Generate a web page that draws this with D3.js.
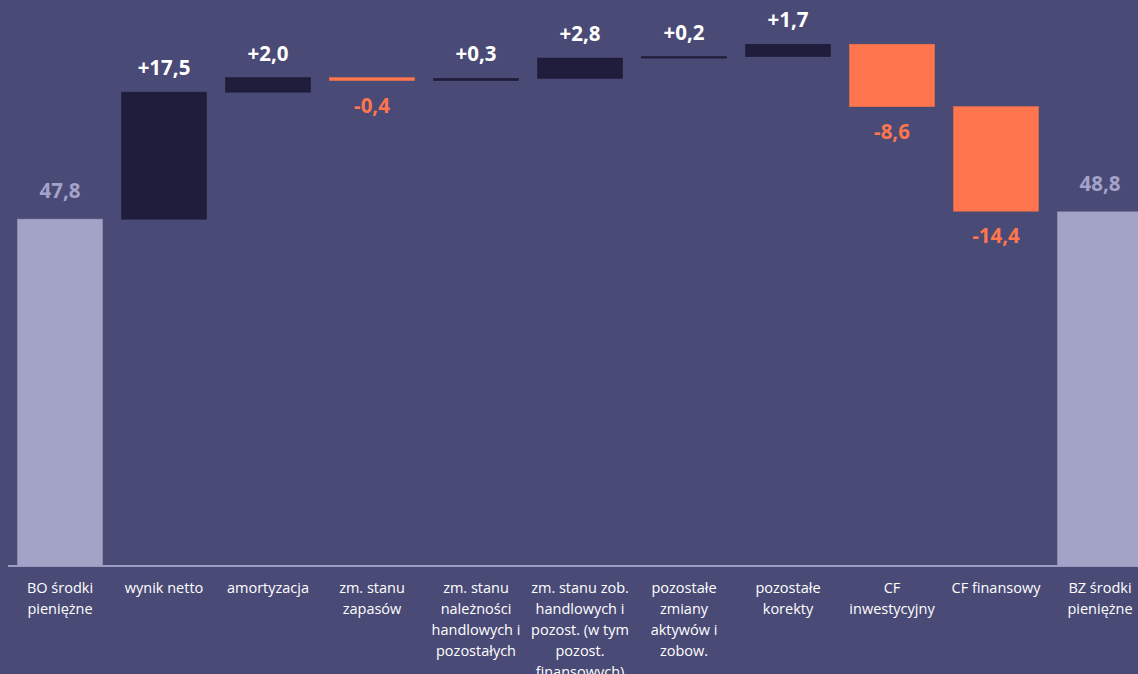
<!DOCTYPE html>
<html>
<head>
<meta charset="utf-8">
<script src="https://cdn.jsdelivr.net/npm/d3@7"></script>
<style>
  body { margin: 0; background: #4a4a76; overflow: hidden; }
  svg { display: block; }
</style>
</head>
<body>
<script>
var width = 1138, height = 674;

// data
var categories = ["BO środki\npieniężne", "wynik netto", "amortyzacja", "zm. stanu\nzapasów",
  "zm. stanu\nnależności\nhandlowych i\npozostałych",
  "zm. stanu zob.\nhandlowych i\npozost. (w tym\npozost.\nfinansowych)",
  "pozostałe\nzmiany\naktywów i\nzobow.", "pozostałe\nkorekty", "CF\ninwestycyjny",
  "CF finansowy", "BZ środki\npieniężne"];
var startValue = 47.8;
var deltas = [17.5, 2.0, -0.4, 0.3, 2.8, 0.2, 1.7, -8.6, -14.4];
var endValue = 48.8;

var fmt = function(v) { return v.toFixed(1).replace(".", ","); };

// build waterfall rows
var rows = [];
rows.push({ cat: categories[0], y0: 0, y1: startValue, type: "total", v: startValue });
var run = startValue;
deltas.forEach(function(d, i) {
  rows.push({ cat: categories[i + 1], y0: run, y1: run + d, type: d >= 0 ? "pos" : "neg", v: d });
  run += d;
});
rows.push({ cat: categories[10], y0: 0, y1: endValue, type: "total", v: endValue });

var fill = { total: "#a3a3c8", pos: "#201c3c", neg: "#ff764e" };
var labelColor = { total: "#a3a3c8", pos: "#ffffff", neg: "#ff764e" };

var svg = d3.select("body").append("svg")
  .attr("width", width)
  .attr("height", height);

svg.append("rect").attr("width", width).attr("height", height).attr("fill", "#4a4a76");

var x = d3.scaleBand()
  .domain(categories)
  .range([8, 1152])
  .paddingInner(0.183)
  .paddingOuter(0.0915);

var y = d3.scaleLinear().domain([0, 78]).range([566, 0]);

// axis line
svg.append("line")
  .attr("x1", 8).attr("x2", width)
  .attr("y1", y(0)).attr("y2", y(0))
  .attr("stroke", "#9c9cc4")
  .attr("stroke-width", 2);

svg.selectAll("rect.bar")
  .data(rows)
  .enter()
  .append("rect")
  .attr("class", "bar")
  .attr("x", function(d) { return x(d.cat); })
  .attr("width", x.bandwidth())
  .attr("y", function(d) { return y(Math.max(d.y0, d.y1)); })
  .attr("height", function(d) { return Math.max(1, Math.abs(y(d.y0) - y(d.y1))); })
  .attr("fill", function(d) { return fill[d.type]; })
  .attr("stroke", function(d) { return d3.color(fill[d.type]).darker(0.15); })
  .attr("stroke-width", 0.6);

// value labels
svg.selectAll("text.val")
  .data(rows)
  .enter()
  .append("text")
  .attr("class", "val")
  .attr("x", function(d) { return x(d.cat) + x.bandwidth() / 2; })
  .attr("y", function(d) {
    if (d.type == "total") return y(d.y1) - 21;
    if (d.type == "pos") return y(d.y1) - 17;
    return y(d.y1) + 32;
  })
  .attr("text-anchor", "middle")
  .style("font-family", "'Open Sans', 'Noto Sans', sans-serif")
  .style("font-weight", "bold")
  .style("font-size", "20.5px")
  .attr("fill", function(d) { return labelColor[d.type]; })
  .text(function(d) {
    if (d.type == "total") return fmt(d.v);
    return (d.v >= 0 ? "+" : "-") + fmt(Math.abs(d.v));
  });

// category labels
var ticks = svg.append("g")
  .attr("transform", "translate(0," + y(0) + ")")
  .call(d3.axisBottom(x).tickSize(0).tickFormat(""));
ticks.select(".domain").remove();

ticks.selectAll(".tick").append("text")
  .attr("fill", "#ffffff")
  .attr("text-anchor", "middle")
  .style("font-family", "'Open Sans', 'Noto Sans', sans-serif")
  .style("font-size", "14.5px")
  .each(function(d) {
    var lines = d.split("\n");
    var t = d3.select(this);
    lines.forEach(function(l, i) {
      t.append("tspan").attr("x", 0).attr("y", 27 + i * 21).text(l);
    });
  });
</script>
</body>
</html>
